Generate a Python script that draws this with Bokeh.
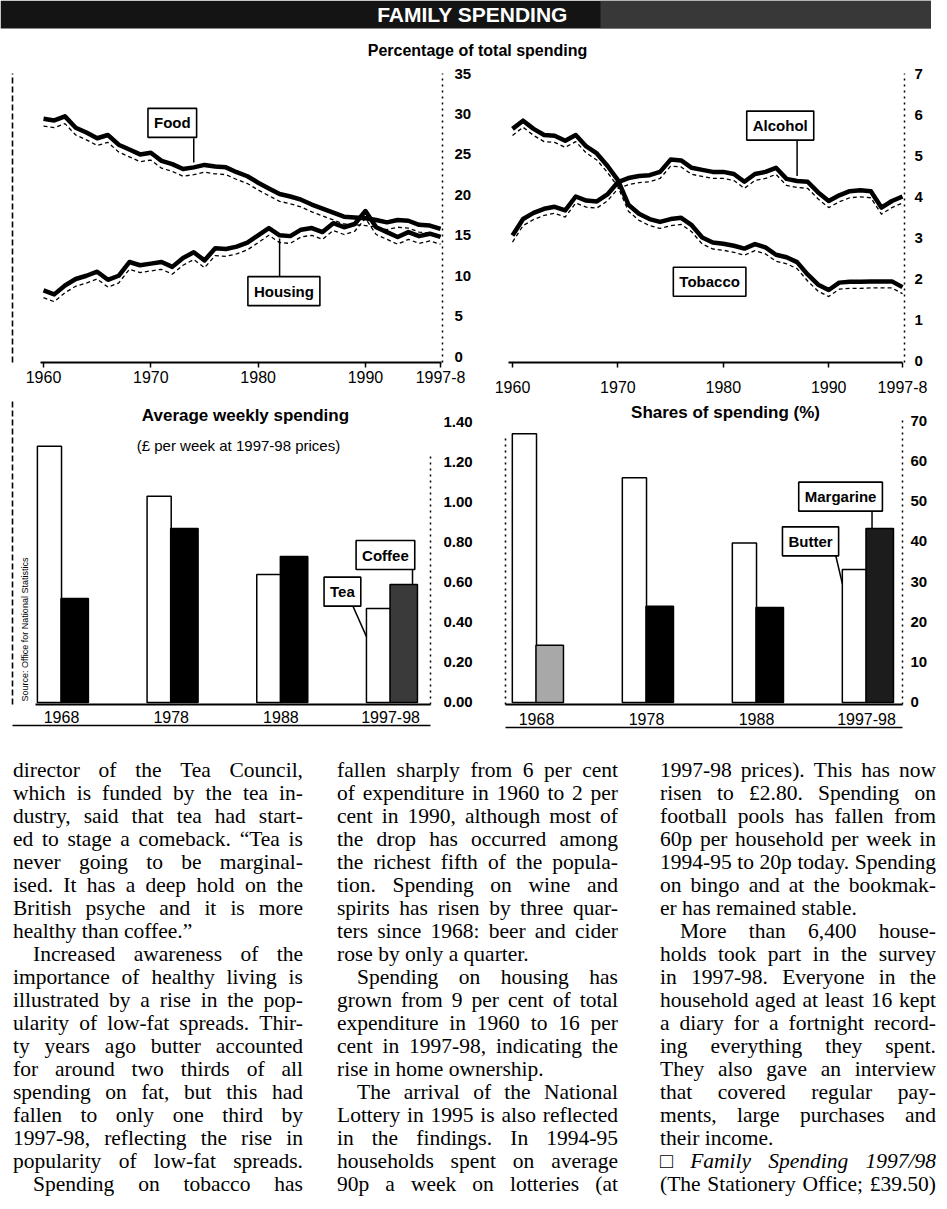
from bokeh.plotting import figure
from bokeh.models import (ColumnDataSource, FixedTicker, LinearAxis, Label, Range1d,
                          BoxAnnotation, NumeralTickFormatter, Div)
from bokeh.layouts import column, row
from bokeh.transform import dodge
from bokeh.embed import file_html
from bokeh.resources import INLINE

# ---------------- data ----------------
years = list(range(1960, 1998))
food = [29.4, 29.2, 29.7, 28.3, 27.7, 27.0, 27.4, 26.2, 25.6, 25.0,
        25.2, 24.2, 23.8, 23.2, 23.4, 23.7, 23.5, 23.4, 22.8, 22.3,
        21.5, 20.8, 20.1, 19.8, 19.4, 18.8, 18.3, 17.8, 17.3, 17.2,
        17.1, 16.9, 16.6, 16.9, 16.8, 16.3, 16.2, 15.8]
housing = [8.2, 7.7, 8.8, 9.6, 10.0, 10.5, 9.5, 10.0, 11.7, 11.3,
           11.5, 11.7, 11.1, 12.2, 12.9, 11.9, 13.4, 13.3, 13.6, 14.1,
           15.0, 15.9, 15.0, 14.9, 15.7, 15.9, 15.4, 16.5, 16.0, 16.4,
           18.0, 16.0, 15.4, 14.8, 15.4, 14.9, 15.2, 14.8]
alcohol = [3.05, 3.45, 3.6, 3.7, 3.75, 3.66, 4.0, 3.9, 3.88, 4.05,
           4.35, 4.45, 4.5, 4.52, 4.6, 4.9, 4.88, 4.7, 4.65, 4.6,
           4.6, 4.55, 4.36, 4.55, 4.6, 4.7, 4.43, 4.38, 4.36, 4.1,
           3.89, 4.03, 4.13, 4.15, 4.13, 3.73, 3.89, 4.0]
tobacco = [5.65, 5.85, 5.65, 5.5, 5.48, 5.36, 5.5, 5.22, 5.05, 4.75,
           4.4, 3.8, 3.58, 3.45, 3.38, 3.45, 3.48, 3.3, 3.0, 2.88,
           2.85, 2.8, 2.73, 2.84, 2.76, 2.58, 2.52, 2.4, 2.1, 1.85,
           1.72, 1.9, 1.92, 1.92, 1.93, 1.93, 1.93, 1.79]
year_ticks = [1960, 1970, 1980, 1990, 1997]
year_tick_labels = ["1960", "1970", "1980", "1990", "1997-8"]
pct_left_ticks = [0, 5, 10, 15, 20, 25, 30, 35]
pct_right_ticks = [0, 1, 2, 3, 4, 5, 6, 7]

bar_years = ["1968", "1978", "1988", "1997-98"]
tea = [1.28, 1.03, 0.64, 0.47]
coffee = [0.52, 0.87, 0.73, 0.59]
butter = [66.7, 55.8, 39.6, 33.0]
margarine = [14.2, 23.9, 23.6, 43.2]
pounds_ticks = [0.0, 0.2, 0.4, 0.6, 0.8, 1.0, 1.2, 1.4]
share_ticks = [0, 10, 20, 30, 40, 50, 60, 70]

# ---------------- styles ----------------
SANS = "Liberation Sans"
coffee_fill = ["black", "black", "black", "#3a3a3a"]
marg_fill = ["#a8a8a8", "black", "black", "#1c1c1c"]


def make_fig(w, h, xr, yr, left, right, top, bottom):
    p = figure(width=w, height=h, x_range=Range1d(*xr), y_range=Range1d(*yr),
               y_axis_location="right", output_backend="svg", toolbar_location=None,
               min_border=0, min_border_left=left, min_border_right=right,
               min_border_top=top, min_border_bottom=bottom)
    p.xgrid.visible = False
    p.ygrid.visible = False
    p.outline_line_color = None
    p.background_fill_color = "white"
    p.border_fill_color = "white"
    return p


def style_xaxis(ax, ticks, labels, standoff, tick_out):
    ax.ticker = FixedTicker(ticks=ticks)
    ax.major_label_overrides = {t: l for t, l in zip(ticks, labels)}
    ax.major_tick_out = tick_out
    ax.major_tick_in = 0
    ax.minor_tick_out = 0
    ax.minor_tick_in = 0
    ax.major_tick_line_width = 1.5
    ax.major_tick_line_color = "black"
    ax.axis_line_width = 2.2
    ax.axis_line_color = "black"
    ax.major_label_text_font = SANS
    ax.major_label_text_font_size = "16px"
    ax.major_label_text_color = "black"
    ax.major_label_standoff = standoff


def style_yaxis(ax, ticks, standoff, fmt=None):
    ax.ticker = FixedTicker(ticks=ticks)
    if fmt is not None:
        ax.formatter = fmt
    ax.major_tick_out = 0
    ax.major_tick_in = 0
    ax.minor_tick_out = 0
    ax.minor_tick_in = 0
    ax.axis_line_dash = "dotted"
    ax.axis_line_width = 1.5
    ax.axis_line_color = "black"
    ax.major_label_text_font = SANS
    ax.major_label_text_font_style = "bold"
    ax.major_label_text_font_size = "15px"
    ax.major_label_text_color = "black"
    ax.major_label_standoff = standoff


def border_axis(p, side, dash):
    ax = LinearAxis(ticker=FixedTicker(ticks=[]), major_tick_out=0, major_tick_in=0,
                    minor_tick_out=0, minor_tick_in=0, axis_line_color="black",
                    axis_line_width=1.6, axis_line_dash=dash)
    p.add_layout(ax, side)
    return ax


def callout(p, x, y, text):
    common = dict(x=x, y=y, text=text, text_font=SANS, text_font_style="bold",
                  text_font_size="15px", text_align="center", text_baseline="middle",
                  padding=6)
    p.add_layout(Label(x_offset=3, y_offset=-3, text_alpha=0, border_line_color="black",
                       border_line_dash="3 2", border_line_width=1.2,
                       background_fill_color=None, **common))
    p.add_layout(Label(text_color="black", background_fill_color="white",
                       border_line_color="black", border_line_width=1.6, **common))


def title_label(p, x, y, text, size="16px", style="bold"):
    p.add_layout(Label(x=x, y=y, text=text, text_font=SANS, text_font_style=style,
                       text_font_size=size, text_align="center", text_baseline="middle",
                       text_color="black"))


# ---------------- banner ----------------
banner = figure(width=931, height=60, x_range=Range1d(0, 931), y_range=Range1d(0, 60),
                x_axis_type=None, y_axis_type=None, output_backend="svg",
                toolbar_location=None, min_border=0)
banner.outline_line_color = None
banner.xgrid.visible = False
banner.ygrid.visible = False
banner.add_layout(BoxAnnotation(bottom=32, top=60, fill_color="#141414", fill_alpha=1,
                                line_color=None))
banner.add_layout(BoxAnnotation(left=600, bottom=32, top=60, fill_color="#555555",
                                fill_alpha=0.55, line_color=None))
banner.add_layout(Label(x=472, y=46, text="FAMILY SPENDING", text_color="white",
                        text_font=SANS, text_font_style="bold",
                        text_font_size="21px", text_align="center", text_baseline="middle"))
banner.add_layout(Label(x=477, y=10, text="Percentage of total spending", text_color="black",
                        text_font=SANS, text_font_style="bold", text_font_size="16px",
                        text_align="center", text_baseline="middle"))

# ---------------- line charts ----------------
src_lines = ColumnDataSource(dict(year=years, food=food, housing=housing,
                                  alcohol=alcohol, tobacco=tobacco))

L1 = make_fig(476, 340, (1957.11, 1997.18), (-0.72, 35), 12, 34, 13, 28)
style_xaxis(L1.xaxis[0], year_ticks, year_tick_labels, 3, 5)
L1.xaxis[0].bounds = (1959.7, 1997.1)
style_yaxis(L1.yaxis[0], pct_left_ticks, 12)
border_axis(L1, "left", "6 3")
for col in ["food", "housing"]:
    L1.line("year", dodge(col, -0.9), source=src_lines, line_color="black",
            line_width=1.3, line_dash="4 3")
    L1.line("year", col, source=src_lines, line_color="black", line_width=4.5,
            line_join="round")
L1.segment(x0=[years[14], years[22]], y0=[27.0, 9.9],
           x1=[years[14], years[22]], y1=[food[14] + 0.6, housing[22] - 0.4],
           line_color="black", line_width=1.5)
callout(L1, 1972.0, 28.9, "Food")
callout(L1, 1982.4, 8.1, "Housing")

R1 = make_fig(455, 340, (1959.43, 1997.19), (-0.048, 7), 30, 27, 9, 38)
style_xaxis(R1.xaxis[0], year_ticks, year_tick_labels, 13, 5)
R1.xaxis[0].bounds = (1959.6, 1997.0)
style_yaxis(R1.yaxis[0], pct_right_ticks, 10)
for col in ["alcohol", "tobacco"]:
    R1.line("year", dodge(col, -0.16), source=src_lines, line_color="black",
            line_width=1.3, line_dash="4 3")
    R1.line("year", col, source=src_lines, line_color="black", line_width=4.5,
            line_join="round")
R1.segment(x0=[years[27]], y0=[5.41], x1=[years[27]], y1=[alcohol[27] + 0.12],
           line_color="black", line_width=1.5)
callout(R1, 1985.4, 5.73, "Alcohol")
callout(R1, 1978.7, 1.92, "Tobacco")

# ---------------- bar charts ----------------
idx = list(range(len(bar_years)))
src_tc = ColumnDataSource(dict(idx=idx, tea=tea, coffee=coffee, cfill=coffee_fill))
src_bm = ColumnDataSource(dict(idx=idx, butter=butter, margarine=margarine, mfill=marg_fill))

B1 = make_fig(476, 340, (-0.447, 3.364), (-0.01, 1.509), 12, 46, 0, 33)
style_xaxis(B1.xaxis[0], idx, bar_years, 6, 0)
B1.xaxis[0].bounds = (-0.24, 3.364)
style_yaxis(B1.yaxis[0], pounds_ticks, 13, NumeralTickFormatter(format="0.00"))
B1.yaxis[0].bounds = (-0.01, 1.25)
left_b1 = border_axis(B1, "left", "6 3")
border_axis(B1, "below", "solid")
B1.vbar(x=dodge("idx", -0.11), top="tea", width=0.22, bottom=0, source=src_tc,
        fill_color="white", line_color="black", line_width=1.5)
B1.vbar(x=dodge("idx", 0.12), top="coffee", width=0.25, bottom=0, source=src_tc,
        fill_color="cfill", line_color="black", line_width=1.5)
B1.segment(x0=[3.2, 2.65], y0=[0.668, 0.49], x1=[3.2, idx[3] - 0.22],
           y1=[coffee[3], tea[3] * 0.7], line_color="black", line_width=1.5)
callout(B1, 2.953, 0.737, "Coffee")
callout(B1, 2.561, 0.554, "Tea")
title_label(B1, 1.677, 1.435, "Average weekly spending", "17px")
title_label(B1, 1.613, 1.286, "(\u00a3 per week at 1997-98 prices)", "15px", "normal")
B1.add_layout(Label(x=-0.33, y=0.005, text="Source: Office for National Statistics",
                    angle=90, angle_units="deg", text_font=SANS, text_font_size="9px",
                    text_align="left", text_baseline="middle", text_color="black"))

B2 = make_fig(455, 340, (-0.282, 3.327), (-0.5, 74.97), 29, 29, 0, 36)
style_xaxis(B2.xaxis[0], idx, bar_years, 8, 0)
style_yaxis(B2.yaxis[0], share_ticks, 8)
B2.yaxis[0].bounds = (-0.5, 70)
left_b2 = border_axis(B2, "left", "dotted")
left_b2.bounds = (-0.5, 66)
border_axis(B2, "below", "solid")
B2.vbar(x=dodge("idx", -0.11), top="butter", width=0.22, bottom=0, source=src_bm,
        fill_color="white", line_color="black", line_width=1.5)
B2.vbar(x=dodge("idx", 0.12), top="margarine", width=0.25, bottom=0, source=src_bm,
        fill_color="mfill", line_color="black", line_width=1.5)
B2.segment(x0=[3.05, 2.72], y0=[47.7, 36.5], x1=[3.05, idx[3] - 0.22],
           y1=[margarine[3], butter[3] - 3.5], line_color="black", line_width=1.5)
callout(B2, 2.764, 51.1, "Margarine")
callout(B2, 2.491, 40.0, "Butter")
title_label(B2, 1.718, 72.0, "Shares of spending (%)", "17px")

# ---------------- article text ----------------
col1 = [
    ("director of the Tea Council,", "j", 0),
    ("which is funded by the tea in-", "j", 0),
    ("dustry, said that tea had start-", "j", 0),
    ("ed to stage a comeback. \u201cTea is", "j", 0),
    ("never going to be marginal-", "j", 0),
    ("ised. It has a deep hold on the", "j", 0),
    ("British psyche and it is more", "j", 0),
    ("healthy than coffee.\u201d", "l", 0),
    ("Increased awareness of the", "j", 1),
    ("importance of healthy living is", "j", 0),
    ("illustrated by a rise in the pop-", "j", 0),
    ("ularity of low-fat spreads. Thir-", "j", 0),
    ("ty years ago butter accounted", "j", 0),
    ("for around two thirds of all", "j", 0),
    ("spending on fat, but this had", "j", 0),
    ("fallen to only one third by", "j", 0),
    ("1997-98, reflecting the rise in", "j", 0),
    ("popularity of low-fat spreads.", "j", 0),
    ("Spending on tobacco has", "j", 1),
]
col2 = [
    ("fallen sharply from 6 per cent", "j", 0),
    ("of expenditure in 1960 to 2 per", "j", 0),
    ("cent in 1990, although most of", "j", 0),
    ("the drop has occurred among", "j", 0),
    ("the richest fifth of the popula-", "j", 0),
    ("tion. Spending on wine and", "j", 0),
    ("spirits has risen by three quar-", "j", 0),
    ("ters since 1968: beer and cider", "j", 0),
    ("rose by only a quarter.", "l", 0),
    ("Spending on housing has", "j", 1),
    ("grown from 9 per cent of total", "j", 0),
    ("expenditure in 1960 to 16 per", "j", 0),
    ("cent in 1997-98, indicating the", "j", 0),
    ("rise in home ownership.", "l", 0),
    ("The arrival of the National", "j", 1),
    ("Lottery in 1995 is also reflected", "j", 0),
    ("in the findings. In 1994-95", "j", 0),
    ("households spent on average", "j", 0),
    ("90p a week on lotteries (at", "j", 0),
]
col3 = [
    ("1997-98 prices). This has now", "j", 0),
    ("risen to \u00a32.80. Spending on", "j", 0),
    ("football pools has fallen from", "j", 0),
    ("60p per household per week in", "j", 0),
    ("1994-95 to 20p today. Spending", "j", 0),
    ("on bingo and at the bookmak-", "j", 0),
    ("er has remained stable.", "l", 0),
    ("More than 6,400 house-", "j", 1),
    ("holds took part in the survey", "j", 0),
    ("in 1997-98. Everyone in the", "j", 0),
    ("household aged at least 16 kept", "j", 0),
    ("a diary for a fortnight record-", "j", 0),
    ("ing everything they spent.", "j", 0),
    ("They also gave an interview", "j", 0),
    ("that covered regular pay-", "j", 0),
    ("ments, large purchases and", "j", 0),
    ("their income.", "l", 0),
    ("\u25a1 <i>Family</i> <i>Spending</i> <i>1997/98</i>", "j", 0),
    ("(The Stationery Office; \u00a339.50)", "j", 0),
]


def line_html(text, mode, indent):
    pad = "padding-left:20px;" if indent else ""
    base = "height:23px;line-height:23px;white-space:nowrap;" + pad
    if mode == "j":
        spans = "".join("<span>%s</span>" % w for w in text.split(" "))
        return '<div style="display:flex;justify-content:space-between;%s">%s</div>' % (base, spans)
    return '<div style="%s">%s</div>' % (base, text)


def col_html(lines, left, width):
    body = "".join(line_html(*ln) for ln in lines)
    return ('<div style="position:absolute;top:14px;left:%dpx;width:%dpx;">%s</div>'
            % (left, width, body))


article = ('<div style="position:relative;width:931px;height:453px;overflow:hidden;'
           'font-family:\'Liberation Serif\',serif;font-size:21.5px;color:#000;">'
           + col_html(col1, 8, 290) + col_html(col2, 332, 281) + col_html(col3, 655, 276)
           + '</div>')
div = Div(text=article, width=931, height=453, styles={"overflow": "hidden"})

layout = column(banner, row(L1, R1), row(B1, B2), div)

with open("out.html", "w", encoding="utf-8") as f:
    f.write(file_html(layout, INLINE))
